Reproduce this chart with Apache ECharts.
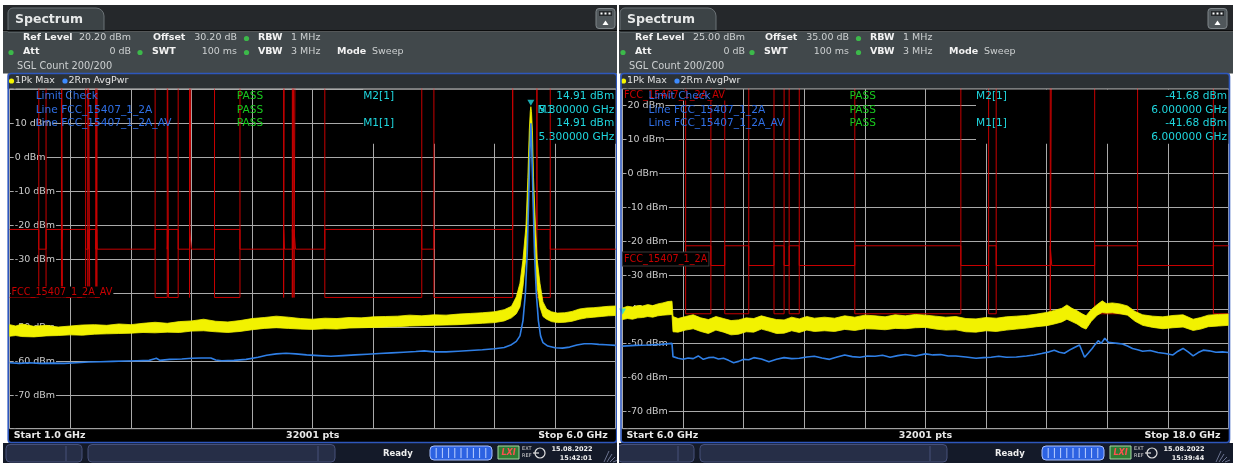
<!DOCTYPE html>
<html><head><meta charset="utf-8">
<script src="https://cdn.jsdelivr.net/npm/echarts@6/dist/echarts.min.js"></script>
<style>html,body{margin:0;padding:0;background:#fff;overflow:hidden}#c{width:1233px;height:463px}</style>
</head><body><div id="c"></div><script>
// ---------------- DATA ----------------
// Left panel: 1.0 - 6.0 GHz
const leftFreqRange = [1.0, 6.0];
const leftLevelRange = [-79.8, 20.2];
const leftRestricted = [[1.0,1.24],[1.3,1.427],[1.435,1.6265],[1.6455,1.6465],[1.66,1.71],[1.7188,1.7222],[2.2,2.3],[2.31,2.39],[2.4835,2.5],[2.69,2.9],[3.26,3.267],[3.332,3.339],[3.3458,3.358],[3.6,4.4],[4.5,5.15],[5.35,5.46]];
const leftInBand = [[5.15,5.35]];
const leftPkFreq = [1.00,1.05,1.10,1.20,1.30,1.40,1.50,1.60,1.70,1.80,1.90,2.00,2.10,2.20,2.30,2.40,2.50,2.60,2.70,2.80,2.90,3.00,3.10,3.20,3.30,3.40,3.50,3.60,3.70,3.80,3.90,4.00,4.10,4.20,4.30,4.40,4.50,4.60,4.70,4.80,4.90,5.00,5.08,5.14,5.18,5.21,5.235,5.26,5.275,5.287,5.295,5.300,5.305,5.313,5.322,5.338,5.352,5.375,5.40,5.43,5.47,5.52,5.58,5.64,5.70,5.76,5.82,5.88,5.94,6.00];
const leftPkTop = [-49.2,-49.6,-49.0,-49.7,-49.4,-49.9,-49.6,-49.3,-49.2,-49.4,-49.0,-49.2,-48.8,-48.5,-48.8,-48.3,-48.1,-47.6,-48.2,-48.4,-48.0,-47.4,-47.1,-46.7,-47.0,-47.4,-47.6,-47.3,-47.4,-47.1,-47.2,-46.9,-46.8,-46.7,-46.4,-46.6,-46.3,-46.4,-46.1,-45.9,-45.7,-45.4,-44.8,-43.8,-41.0,-37.0,-30.0,-20.0,-6.0,8.0,13.5,14.91,13.5,8.0,-6.0,-20.0,-30.0,-37.0,-42.5,-44.6,-45.4,-45.8,-45.7,-45.3,-44.6,-44.3,-44.2,-44.0,-43.8,-43.7];
const leftPkBottom = [-52.6,-52.4,-52.7,-52.8,-52.5,-52.4,-52.2,-52.3,-52.0,-51.9,-51.8,-51.7,-51.5,-51.6,-51.4,-51.5,-51.1,-51.0,-51.3,-51.5,-51.2,-50.7,-50.3,-50.1,-50.3,-50.5,-50.6,-50.4,-50.5,-50.2,-50.1,-50.0,-49.9,-49.8,-49.6,-49.5,-49.4,-49.3,-49.2,-49.0,-48.8,-48.6,-48.1,-47.2,-46.0,-44.0,-38.0,-29.0,-16.0,-2.0,6.0,10.0,6.0,-2.0,-16.0,-29.0,-38.0,-44.0,-46.8,-47.6,-48.3,-48.6,-48.5,-48.2,-47.6,-47.2,-47.0,-46.8,-46.6,-46.5];
const leftAvFreq = [1.00,1.08,1.16,1.25,1.35,1.45,1.55,1.65,1.75,1.85,1.95,2.05,2.15,2.19,2.21,2.24,2.32,2.42,2.50,2.58,2.66,2.70,2.75,2.85,2.95,3.05,3.12,3.20,3.28,3.36,3.45,3.55,3.65,3.75,3.85,3.95,4.05,4.15,4.25,4.35,4.42,4.50,4.60,4.70,4.80,4.90,5.00,5.08,5.14,5.18,5.21,5.235,5.255,5.27,5.282,5.292,5.300,5.308,5.318,5.33,5.345,5.362,5.38,5.40,5.44,5.50,5.56,5.62,5.68,5.74,5.80,5.86,5.92,6.00];
const leftAvVal = [-60.4,-60.6,-60.4,-60.6,-60.5,-60.6,-60.4,-60.2,-60.1,-60.0,-59.9,-59.8,-59.7,-59.3,-59.1,-59.7,-59.4,-59.3,-59.1,-59.0,-59.0,-59.6,-59.8,-59.7,-59.4,-58.8,-58.2,-57.8,-57.6,-57.8,-58.1,-58.3,-58.5,-58.3,-58.1,-57.9,-57.7,-57.5,-57.3,-57.1,-56.9,-57.2,-57.2,-57.0,-56.8,-56.6,-56.3,-55.9,-55.1,-54.1,-52.5,-48.0,-40.0,-28.0,-12.0,2.0,10.0,2.0,-12.0,-28.0,-40.0,-48.0,-52.5,-54.5,-55.5,-56.0,-56.1,-55.8,-55.2,-54.8,-54.8,-55.0,-55.1,-55.3];

// Right panel: 6.0 - 18.0 GHz
const rightFreqRange = [6.0, 18.0];
const rightLevelRange = [-75, 25];
const rightRestricted = [[7.25,7.75],[8.025,8.5],[9.0,9.2],[9.3,9.5],[10.6,12.7],[13.25,13.4],[14.47,14.5],[15.35,16.2],[17.7,18.0]];
const rightInBand = [];
const rightPkFreq = [6.00,6.10,6.20,6.30,6.40,6.50,6.60,6.70,6.80,6.90,6.98,7.00,7.10,7.25,7.40,7.55,7.70,7.85,8.00,8.15,8.30,8.45,8.60,8.75,8.90,9.05,9.20,9.35,9.50,9.65,9.80,10.00,10.20,10.40,10.60,10.80,11.00,11.20,11.40,11.60,11.80,12.00,12.20,12.40,12.60,12.80,13.00,13.20,13.40,13.60,13.80,14.00,14.20,14.40,14.55,14.70,14.80,14.90,15.00,15.10,15.18,15.28,15.40,15.50,15.58,15.70,15.85,16.00,16.15,16.30,16.50,16.70,16.90,17.10,17.30,17.45,17.60,17.80,18.00];
const rightPkTop = [-39.5,-39.0,-39.2,-38.8,-38.9,-38.5,-38.8,-38.3,-38.0,-37.6,-37.5,-42.0,-42.6,-42.0,-41.5,-42.4,-42.9,-42.0,-42.6,-43.2,-43.0,-42.4,-42.6,-41.8,-42.4,-42.9,-43.0,-42.2,-42.7,-42.0,-42.5,-42.2,-42.5,-41.8,-42.2,-41.6,-41.8,-42.1,-41.5,-41.8,-41.4,-41.6,-41.9,-42.2,-42.0,-42.6,-42.7,-42.3,-42.5,-42.1,-41.9,-41.7,-41.3,-40.8,-40.2,-39.6,-38.6,-39.6,-40.3,-41.2,-41.8,-40.0,-38.5,-37.4,-38.2,-38.0,-38.3,-38.9,-40.5,-41.5,-41.9,-42.1,-41.7,-41.5,-42.8,-42.3,-41.6,-41.4,-41.3];
const rightPkBottom = [-42.9,-42.6,-42.8,-42.4,-42.3,-42.0,-42.2,-41.8,-41.6,-41.5,-41.4,-46.5,-46.6,-46.0,-45.6,-46.4,-47.0,-46.0,-46.6,-47.4,-47.2,-46.5,-46.6,-45.7,-46.3,-47.0,-46.9,-46.2,-46.7,-46.0,-46.4,-46.2,-46.4,-45.8,-46.1,-45.6,-45.7,-45.9,-45.5,-45.6,-45.3,-45.2,-45.7,-46.0,-45.9,-46.5,-46.6,-46.2,-46.4,-46.0,-45.7,-45.4,-45.0,-44.7,-44.2,-43.6,-42.8,-43.5,-44.2,-45.2,-45.7,-43.5,-41.6,-40.8,-41.0,-40.9,-41.2,-41.6,-43.4,-44.6,-45.2,-45.6,-45.3,-45.1,-46.1,-45.7,-45.0,-44.8,-44.6];
const rightAvFreq = [6.00,6.25,6.50,6.75,6.98,7.00,7.10,7.20,7.30,7.40,7.50,7.60,7.70,7.80,7.90,8.00,8.10,8.20,8.30,8.40,8.50,8.60,8.75,8.90,9.05,9.20,9.35,9.50,9.65,9.80,9.95,10.10,10.25,10.40,10.55,10.70,10.85,11.00,11.15,11.30,11.45,11.60,11.80,12.00,12.15,12.30,12.45,12.60,12.80,13.00,13.15,13.30,13.45,13.60,13.80,14.00,14.15,14.30,14.45,14.55,14.65,14.75,14.85,14.95,15.05,15.15,15.22,15.30,15.36,15.42,15.48,15.55,15.62,15.70,15.80,15.90,16.00,16.10,16.20,16.30,16.45,16.60,16.75,16.90,17.00,17.10,17.20,17.30,17.40,17.50,17.62,17.75,17.88,18.00];
const rightAvVal = [-50.7,-50.5,-50.4,-50.2,-49.9,-53.8,-54.3,-54.6,-54.2,-54.4,-53.6,-54.6,-54.1,-54.0,-54.5,-54.3,-54.9,-55.6,-55.2,-54.6,-54.7,-54.1,-54.5,-55.3,-54.6,-54.1,-54.4,-54.3,-53.9,-53.7,-54.2,-54.6,-53.9,-53.3,-53.8,-54.0,-53.6,-53.7,-53.4,-54.0,-53.5,-53.2,-53.6,-53.0,-53.3,-53.2,-53.6,-53.6,-53.9,-54.3,-54.1,-54.0,-53.7,-54.0,-53.9,-53.6,-53.3,-52.9,-52.4,-51.9,-52.5,-52.8,-51.9,-51.1,-50.4,-54.0,-52.8,-51.4,-50.2,-49.1,-49.9,-48.4,-49.6,-49.7,-49.9,-50.1,-50.7,-51.4,-51.8,-52.2,-52.0,-52.6,-52.9,-53.3,-52.2,-51.4,-52.4,-53.6,-52.6,-51.9,-52.1,-52.5,-52.4,-52.6];

// Limit levels (dBm)
const limitPkRestricted = -21.2;
const limitPkGeneral = -27.0;
const limitAvRestricted = -41.2;
const limitOpen = 60; // limit above the screen

// Markers [GHz, dBm]
const leftMarker = [5.3, 14.91];
const rightMarker = [6.0, -41.68];

// ---------------- BUILD ----------------
const FONT = '"DejaVu Sans", Verdana, sans-serif';
const GRID_C = '#a9a9a9';
const LIMIT_C = '#c80000';
const YEL = '#f2f200';
const BLU = '#2f7fe6';
const CYAN = '#1fd6de';

function buildLimit(range, bands, inVal, outVal, openBands, openVal) {
  const edges = [range[0], range[1]];
  bands.concat(openBands).forEach(b => edges.push(b[0], b[1]));
  const xs = Array.from(new Set(edges)).filter(x => x >= range[0] && x <= range[1]).sort((a, b) => a - b);
  const inside = (list, m) => list.some(b => m > b[0] && m < b[1]);
  const pts = [];
  for (let i = 0; i < xs.length - 1; i++) {
    const m = (xs[i] + xs[i + 1]) / 2;
    const v = inside(openBands, m) ? openVal : (inside(bands, m) ? inVal : outVal);
    pts.push([xs[i], v], [xs[i + 1], v]);
  }
  return pts;
}
const zip = (a, b) => a.map((v, i) => [v, b[i]]);

function bandSeries(xi, yi, freq, top, bot) {
  return {
    type: 'custom', xAxisIndex: xi, yAxisIndex: yi, clip: true, z: 3, silent: true,
    data: [[freq[0], top[0]]], encode: { x: 0, y: 1 },
    renderItem(params, api) {
      const pts = [];
      for (let i = 0; i < freq.length; i++) pts.push(api.coord([freq[i], top[i]]));
      for (let i = freq.length - 1; i >= 0; i--) pts.push(api.coord([freq[i], bot[i]]));
      return { type: 'polygon', shape: { points: pts }, style: { fill: YEL, stroke: YEL, lineWidth: 0.8 } };
    }
  };
}
function limitSeries(xi, yi, data) {
  return { type: 'line', xAxisIndex: xi, yAxisIndex: yi, data, showSymbol: false, symbol: 'none', z: 2, silent: true,
    lineStyle: { color: LIMIT_C, width: 1 }, animation: false };
}
function traceSeries(xi, yi, data, color, w, z) {
  return { type: 'line', xAxisIndex: xi, yAxisIndex: yi, data, showSymbol: false, symbol: 'none', z, silent: true,
    lineStyle: { color, width: w }, animation: false };
}
function markerSeries(xi, yi, pt) {
  return { type: 'scatter', xAxisIndex: xi, yAxisIndex: yi, data: [pt], symbol: 'triangle', symbolRotate: 180,
    symbolSize: [7, 6], symbolOffset: [0, -4], itemStyle: { color: CYAN }, z: 6, silent: true, animation: false };
}

// graphic helpers
function T(x, y, text, o) {
  o = o || {};
  const al = o.a || 'left';
  const st = { text, fill: o.c || '#dddddd', font: (o.w || 'normal') + ' ' + (o.s || 10) + 'px ' + FONT,
    align: al, textAlign: al, verticalAlign: 'middle', textVerticalAlign: 'middle' };
  if (o.bg) { st.backgroundColor = o.bg; st.padding = o.pad || [1, 1, 0, 1]; }
  if (o.bc) { st.borderColor = o.bc; st.borderWidth = 1; }
  return { type: 'text', x, y, z: o.z == null ? 20 : o.z, silent: true, style: st };
}
function Rc(x, y, w, h, fill, o) {
  o = o || {};
  return { type: 'rect', shape: { x, y, width: w, height: h, r: o.r || 0 }, z: o.z == null ? 0 : o.z, silent: true,
    style: { fill, stroke: o.stroke || null, lineWidth: o.lw || 1 } };
}
function Ln(x1, y1, x2, y2, stroke, o) {
  o = o || {};
  return { type: 'line', shape: { x1, y1, x2, y2 }, z: o.z == null ? 1 : o.z, silent: true, style: { stroke, lineWidth: o.lw || 1 } };
}
function Dot(cx, cy, r, fill, z) {
  return { type: 'circle', shape: { cx, cy, r }, z: z == null ? 2 : z, silent: true, style: { fill } };
}

const PLOT_TOP = 88.7, PLOT_H = 340;
const P = [
  { dx: 0, bodyX: 3, plotL: 9.7, info: { ref: '20.20 dBm', off: '30.20 dB' }, start: 'Start 1.0 GHz', stop: 'Stop 6.0 GHz',
    time: '15:42:01', mk: { lvl: '14.91 dBm', frq: '5.300000 GHz' } },
  { dx: 612, bodyX: 619, plotL: 622.5, info: { ref: '25.00 dBm', off: '35.00 dB' }, start: 'Start 6.0 GHz', stop: 'Stop 18.0 GHz',
    time: '15:39:44', mk: { lvl: '-41.68 dBm', frq: '6.000000 GHz' } }
];
const PLOT_W = 606;

const G = [];
G.push(Rc(0, 0, 1233, 463, '#ffffff', { z: -5 }));
P.forEach((p, idx) => {
  const dx = p.dx, bx = p.bodyX, bw = 614;
  const pl = p.plotL, pr = pl + PLOT_W, pb = PLOT_TOP + PLOT_H;
  // header bar
  G.push(Rc(bx, 5, bw, 25, '#25282b'));
  G.push({ type: 'rect', shape: { x: dx + 8, y: 8, width: 96, height: 24, r: [5, 8, 0, 0] }, z: 1, silent: true,
    style: { fill: '#3c4346', stroke: '#6b7276', lineWidth: 1 } });
  G.push(T(dx + 15, 19.5, 'Spectrum', { w: 'bold', s: 12.5, c: '#e6e8e8' }));
  G.push(Rc(bx, 30, bw, 1.5, '#0b0c0d', { z: 2 }));
  // button
  G.push(Rc(dx + 596, 8.5, 19, 20, '#50575b', { r: 3, stroke: '#80878b', z: 1 }));
  G.push(Rc(dx + 599, 11, 13, 5, '#25282b', { z: 2 }));
  [601.5, 605.5, 609.5].forEach(x => G.push(Rc(dx + x - 1, 12.5, 2, 2, '#ffffff', { z: 3 })));
  G.push({ type: 'polygon', shape: { points: [[dx + 602.5, 25], [dx + 608.5, 25], [dx + 605.5, 20.5]] }, z: 3, silent: true, style: { fill: '#ffffff' } });
  // info area
  G.push(Rc(bx, 31.5, bw, 42, '#41484b'));
  const lab = { w: 'bold', s: 9.5, c: '#f2f2f2' }, val = { s: 9.5, c: '#cdd0d1' };
  const vr = idx === 0 ? 131 : 745 - dx;
  G.push(T(dx + 23, 38, 'Ref Level', lab));
  G.push(T(dx + vr, 38, p.info.ref, Object.assign({ a: 'right' }, val)));
  G.push(T(dx + 153, 38, 'Offset', lab));
  G.push(T(dx + 237, 38, p.info.off, Object.assign({ a: 'right' }, val)));
  G.push(Dot(dx + 246.5, 38.5, 2.6, '#3cb94a'));
  G.push(T(dx + 258, 38, 'RBW', lab));
  G.push(T(dx + 291, 38, '1 MHz', val));
  G.push(Dot(dx + 11, 52.5, 2.6, '#3cb94a'));
  G.push(T(dx + 23, 52, 'Att', lab));
  G.push(T(dx + vr, 52, '0 dB', Object.assign({ a: 'right' }, val)));
  G.push(Dot(dx + 140, 52.5, 2.6, '#3cb94a'));
  G.push(T(dx + 152, 52, 'SWT', lab));
  G.push(T(dx + 237, 52, '100 ms', Object.assign({ a: 'right' }, val)));
  G.push(Dot(dx + 246.5, 52.5, 2.6, '#3cb94a'));
  G.push(T(dx + 258, 52, 'VBW', lab));
  G.push(T(dx + 291, 52, '3 MHz', val));
  G.push(T(dx + 337, 52, 'Mode', lab));
  G.push(T(dx + 372, 52, 'Sweep', val));
  G.push(T(dx + 17, 66, 'SGL Count 200/200', { s: 9.8, c: '#cdd0d1' }));
  // trace legend row
  G.push(Rc(pl - 2, 73.5, PLOT_W + 3, 15.2, '#2c3134', { z: 1 }));
  G.push(Dot(dx + 11.5, 81, 2.6, '#f5f500', 3));
  G.push(T(dx + 15, 81, '1Pk Max', { s: 9.5, c: '#e2e2e2' }));
  G.push(Dot(dx + 65, 81, 2.6, '#3d8bff', 3));
  G.push(T(dx + 68.5, 81, '2Rm AvgPwr', { s: 9.5, c: '#e2e2e2' }));
  // bottom row under plot
  G.push(Rc(pl - 1, pb, PLOT_W + 2, 443 - pb, '#000000', { z: 1 }));
  G.push(Ln(pl, pb, pr, pb, GRID_C, { z: 3 }));
  G.push(Ln(pl, PLOT_TOP + 0.3, pr, PLOT_TOP + 0.3, GRID_C, { z: 3 }));
  G.push(T(pl + 4, 435.8, p.start, { w: 'bold', s: 9.5, c: '#e8e8e8' }));
  G.push(T(pl + 303, 435.8, '32001 pts', { w: 'bold', s: 9.5, c: '#e8e8e8', a: 'center' }));
  G.push(T(pr - 8, 435.8, p.stop, { w: 'bold', s: 9.5, c: '#e8e8e8', a: 'right' }));
  // marker info box (masks grid only)
  G.push(Rc(pl + 353.5, PLOT_TOP + 0.8, pr - pl - 353.5, 54.3, '#000000', { z: 1 }));
  // limit check texts
  const lx = pl + 26;
  G.push(T(lx, 96, 'Limit Check', { s: 10.6, c: '#2f6fe4', z: 22 }));
  G.push(T(lx, 110, 'Line FCC_15407_1_2A', { s: 10.6, c: '#2f6fe4', z: 22 }));
  G.push(T(lx, 123.3, 'Line FCC_15407_1_2A_AV', { s: 10.6, c: '#2f6fe4', z: 22 }));
  [96, 110, 123.3].forEach(y => G.push(T(pl + 227, y, 'PASS', { s: 10.6, c: '#19c81e', z: 22 })));
  G.push(T(pl + 353.5, 96, 'M2[1]', { s: 10.6, c: CYAN }));
  G.push(T(pl + 353.5, 123.3, 'M1[1]', { s: 10.6, c: CYAN }));
  G.push(T(pr - 1.5, 96, p.mk.lvl, { s: 10.6, c: CYAN, a: 'right' }));
  G.push(T(pr - 1.5, 110, p.mk.frq, { s: 10.6, c: CYAN, a: 'right' }));
  G.push(T(pr - 1.5, 123.3, p.mk.lvl, { s: 10.6, c: CYAN, a: 'right' }));
  G.push(T(pr - 1.5, 137, p.mk.frq, { s: 10.6, c: CYAN, a: 'right' }));
  // status bar
  G.push(Rc(bx, 443, bw, 20, '#141a29', { z: 1 }));
  G.push(Rc(dx + 6, 444.5, 76, 17.5, '#262e47', { r: 4, stroke: '#46507a', z: 2 }));
  G.push(Ln(dx + 66, 446, dx + 66, 461, '#46507a', { z: 3 }));
  G.push(Rc(dx + 88, 444.5, 247, 17.5, '#262e47', { r: 4, stroke: '#46507a', z: 2 }));
  G.push(Ln(dx + 318, 446, dx + 318, 461, '#46507a', { z: 3 }));
  G.push(T(dx + 383, 454, 'Ready', { w: 'bold', s: 8.5, c: '#eeeeee' }));
  G.push(Rc(dx + 430, 446, 62, 14, '#2c62e2', { r: 4, stroke: '#a9c0ff', z: 2 }));
  for (let k = 1; k < 10; k++) G.push(Ln(dx + 430 + k * 6.2, 448, dx + 430 + k * 6.2, 458, '#bcd0ff', { z: 3 }));
  G.push(Rc(dx + 498, 446, 21, 13, '#2f7d34', { stroke: '#a6d8a6', z: 2 }));
  G.push(T(dx + 508.5, 452.5, 'LXI', { w: 'bold italic', s: 8, c: '#ff5050', a: 'center', z: 3 }));
  G.push(T(dx + 522, 449, 'EXT', { s: 5, c: '#d8d8d8' }));
  G.push(T(dx + 522, 456, 'REF', { s: 5, c: '#d8d8d8' }));
  G.push({ type: 'circle', shape: { cx: dx + 540, cy: 453, r: 5 }, z: 3, silent: true, style: { fill: 'none', stroke: '#e0e0e0', lineWidth: 1.2 } });
  G.push(Ln(dx + 533, 453, dx + 539, 453, '#e0e0e0', { z: 3, lw: 1.2 }));
  G.push(T(dx + 572, 449, '15.08.2022', { w: 'bold', s: 6.5, c: '#f0f0f0', a: 'center' }));
  G.push(T(dx + 576, 458.5, p.time, { w: 'bold', s: 6.5, c: '#f0f0f0', a: 'center' }));
  for (let k = 0; k < 4; k++) G.push(Ln(dx + 604 + k * 3, 462, dx + 612 + k * 3 - 3, 451 + k * 3, '#6b7390', { z: 3 }));
  // blue window frame
  G.push({ type: 'rect', shape: { x: pl - 1.5, y: 73.5, width: PLOT_W + 2.5, height: 369, r: 3 }, z: 30, silent: true,
    style: { fill: 'none', stroke: '#2e57bd', lineWidth: 1.6 } });
});
// limit line labels (red, black background)
G.push(T(10.5, 292, 'FCC_15407_1_2A_AV', { s: 9.7, c: '#c80000', bg: '#000000', z: 15 }));
G.push(T(623, 95, 'FCC_15407_1_2A_AV', { s: 9.7, c: '#c80000', bg: '#000000', z: 15 }));
G.push(T(623, 259, 'FCC_15407_1_2A', { s: 9.7, c: '#c80000', bg: '#000000', bc: '#3a3a3a', pad: [2, 1, 1, 1], z: 15 }));
// marker numeral drawn next to the peak marker
G.push(T(537.5, 110, 'M1', { s: 10.6, c: CYAN, z: 21 }));
// white gap between screens
G.push(Rc(617, 0, 2, 463, '#ffffff', { z: 40 }));

function yLabelFmt(hideTop) {
  return v => {
    const r = Math.round(v);
    if (Math.abs(v - r) > 1e-6 || r % 10 !== 0) return '';
    if (hideTop && r > 15) return '';
    return r + ' dBm';
  };
}
function xAx(gi, range, interval) {
  return { type: 'value', gridIndex: gi, min: range[0], max: range[1], interval,
    axisLabel: { show: false }, axisTick: { show: false }, axisLine: { show: false },
    splitLine: { show: true, lineStyle: { color: GRID_C, width: 1 } } };
}
function yAxA(gi, range) {
  return { type: 'value', gridIndex: gi, position: 'left', min: range[0], max: range[1], splitNumber: 10, z: 0,
    axisLabel: { show: false }, axisTick: { show: false }, axisLine: { show: false },
    splitLine: { show: true, lineStyle: { color: GRID_C, width: 1 } } };
}
function yAxB(gi, range, hideTop) {
  return { type: 'value', gridIndex: gi, position: 'left', offset: 0, min: range[0], max: range[1], splitNumber: 10, z: 1,
    axisTick: { show: false }, axisLine: { show: false }, splitLine: { show: false },
    axisLabel: { show: true, inside: true, margin: 4, color: '#cbcbcb', fontSize: 9.5, fontFamily: FONT,
      backgroundColor: '#000000', padding: [1, 1, 0, 1], formatter: yLabelFmt(hideTop), showMinLabel: true, showMaxLabel: true } };
}

const option = {
  animation: false,
  backgroundColor: '#ffffff',
  grid: [
    { left: P[0].plotL, top: PLOT_TOP, width: PLOT_W, height: PLOT_H, show: true, backgroundColor: '#000000', borderWidth: 0 },
    { left: P[1].plotL, top: PLOT_TOP, width: PLOT_W, height: PLOT_H, show: true, backgroundColor: '#000000', borderWidth: 0 }
  ],
  xAxis: [xAx(0, leftFreqRange, 0.5), xAx(1, rightFreqRange, 1.2)],
  yAxis: [yAxA(0, leftLevelRange), yAxB(0, leftLevelRange, true), yAxA(1, rightLevelRange), yAxB(1, rightLevelRange, false)],
  series: [
    limitSeries(0, 0, buildLimit(leftFreqRange, leftRestricted, limitAvRestricted, limitOpen, [], limitOpen)),
    limitSeries(0, 0, buildLimit(leftFreqRange, leftRestricted, limitPkRestricted, limitPkGeneral, leftInBand, limitOpen)),
    bandSeries(0, 0, leftPkFreq, leftPkTop, leftPkBottom),
    traceSeries(0, 0, zip(leftAvFreq, leftAvVal), BLU, 1.6, 4),
    markerSeries(0, 0, leftMarker),
    limitSeries(1, 2, buildLimit(rightFreqRange, rightRestricted, limitAvRestricted, limitOpen, [], limitOpen)),
    limitSeries(1, 2, buildLimit(rightFreqRange, rightRestricted, limitPkRestricted, limitPkGeneral, rightInBand, limitOpen)),
    bandSeries(1, 2, rightPkFreq, rightPkTop, rightPkBottom),
    traceSeries(1, 2, zip(rightAvFreq, rightAvVal), BLU, 1.6, 4),
    markerSeries(1, 2, rightMarker)
  ],
  graphic: { elements: G }
};
const chart = echarts.init(document.getElementById('c'), null, { renderer: 'canvas' });
chart.setOption(option);
</script></body></html>
